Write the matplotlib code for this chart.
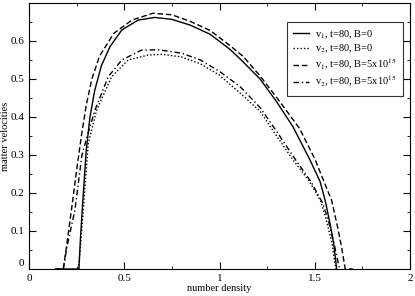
import matplotlib
matplotlib.use('Agg')
import matplotlib.pyplot as plt
from matplotlib.ticker import MultipleLocator

plt.rcParams['font.family'] = ['Liberation Serif', 'DejaVu Serif']
plt.rcParams['mathtext.fontset'] = 'stix'

# v1, B=0
x_v1_b0 = [0.14, 0.262, 0.27, 0.28, 0.30, 0.32, 0.345, 0.38, 0.425, 0.487, 0.573, 0.66, 0.75,
           0.845, 0.95, 1.055, 1.108, 1.213, 1.30, 1.386, 1.475, 1.528, 1.555, 1.58, 1.60, 1.615]
y_v1_b0 = [0.0, 0.0, 0.08, 0.16, 0.31, 0.40, 0.47, 0.535, 0.585, 0.629, 0.655, 0.662, 0.657,
           0.642, 0.618, 0.578, 0.553, 0.50, 0.44, 0.374, 0.287, 0.23, 0.18, 0.12, 0.065, 0.0]

# v2, B=0
x_v2_b0 = [0.26, 0.27, 0.285, 0.311, 0.355, 0.434, 0.52, 0.625, 0.70, 0.80, 0.90, 1.00, 1.108,
           1.213, 1.30, 1.386, 1.47, 1.53, 1.56, 1.59, 1.61]
y_v2_b0 = [0.0, 0.06, 0.155, 0.33, 0.418, 0.506, 0.55, 0.563, 0.565, 0.558, 0.54, 0.51, 0.463,
           0.415, 0.35, 0.287, 0.232, 0.18, 0.13, 0.07, 0.0]

# v1, B=5x10^15
x_v1_b = [0.14, 0.18, 0.20, 0.224, 0.25, 0.275, 0.30, 0.33, 0.37, 0.445, 0.54, 0.65, 0.75,
          0.845, 0.95, 1.055, 1.125, 1.213, 1.302, 1.42, 1.50, 1.589, 1.62, 1.64, 1.66, 1.70]
y_v1_b = [0.0, 0.0, 0.07, 0.16, 0.26, 0.35, 0.43, 0.50, 0.56, 0.62, 0.655, 0.673, 0.669,
          0.652, 0.628, 0.588, 0.559, 0.508, 0.45, 0.37, 0.29, 0.18, 0.11, 0.06, 0.0, 0.0]

# v2, B=5x10^15
x_v2_b = [0.18, 0.20, 0.241, 0.278, 0.31, 0.346, 0.416, 0.487, 0.59, 0.68, 0.80, 0.90, 1.00,
          1.108, 1.213, 1.30, 1.40, 1.48, 1.54, 1.57, 1.60, 1.63]
y_v2_b = [0.0, 0.06, 0.155, 0.30, 0.357, 0.418, 0.506, 0.55, 0.576, 0.577, 0.568, 0.55, 0.52,
          0.48, 0.425, 0.362, 0.287, 0.23, 0.175, 0.13, 0.07, 0.0]

fig = plt.figure(figsize=(4.15, 2.96), dpi=100)
ax = fig.add_axes([29 / 415, 27 / 296, 381 / 415, 266 / 296])

ax.plot(x_v1_b0, y_v1_b0, color='black', lw=1.0, label='v$_1$, t=80, B=0')
ax.plot(x_v2_b0, y_v2_b0, color='black', lw=1.0, linestyle=(0, (1, 1.5)), label='v$_2$, t=80, B=0')
ax.plot(x_v1_b, y_v1_b, color='black', lw=1.0, linestyle=(0, (4, 2)),
        label='v$_1$, t=80, B=5x10$^{15}$')
ax.plot(x_v2_b, y_v2_b, color='black', lw=1.0, linestyle=(0, (4, 2, 1, 2)),
        label='v$_2$, t=80, B=5x10$^{15}$')

ax.set_xlim(0, 2)
ax.set_ylim(0, 0.7)
ax.xaxis.set_minor_locator(MultipleLocator(0.25))
ax.yaxis.set_minor_locator(MultipleLocator(0.05))
ax.set_xticks([0, 0.5, 1, 1.5, 2])
ax.set_xticklabels(['0', '0.5', '1', '1.5', '2'])
ax.set_yticks([0.1, 0.2, 0.3, 0.4, 0.5, 0.6])
ax.tick_params(which='both', direction='in', top=True, right=True, labelsize=8)
ax.tick_params(which='major', length=5)
ax.tick_params(which='minor', length=2.5)
ax.text(-0.025, 0.003, '0', fontsize=8, ha='right', va='bottom')
for s in ax.spines.values():
    s.set_linewidth(0.8)

ax.set_xlabel('number density', fontsize=7.5, labelpad=1)
ax.set_ylabel('matter velocities', fontsize=7.5, labelpad=0)

leg = ax.legend(loc='upper right', bbox_to_anchor=(0.982, 0.929), borderaxespad=0, fontsize=7.5,
                frameon=True, fancybox=False, edgecolor='black', handlelength=1.5,
                handletextpad=0.6, labelspacing=0.2, borderpad=0.6)
leg.get_frame().set_linewidth(0.8)

fig.savefig('out.png', dpi=100)
